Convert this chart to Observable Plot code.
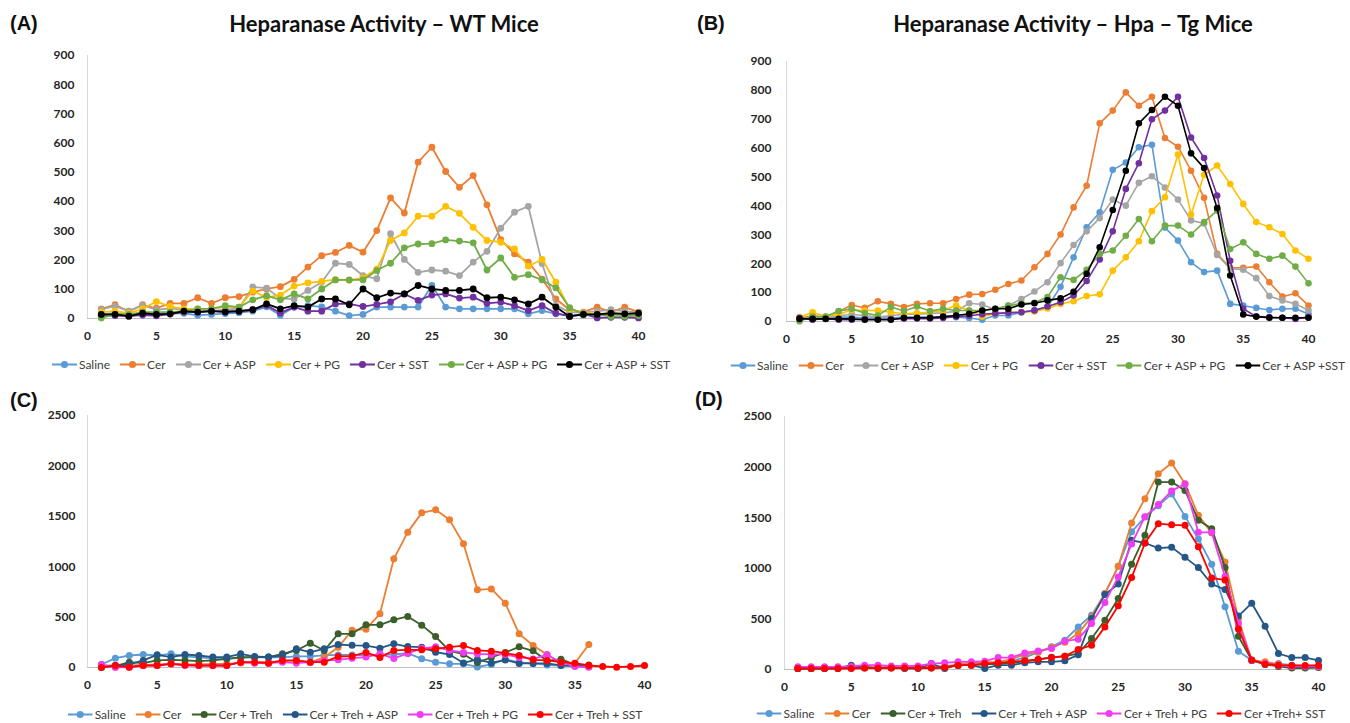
<!DOCTYPE html>
<html><head><meta charset="utf-8">
<script src="https://cdn.jsdelivr.net/npm/d3@7"></script>
<script src="https://cdn.jsdelivr.net/npm/@observablehq/plot@0.6"></script>
<style>
body{margin:0;background:#fff;width:1350px;height:723px;overflow:hidden;font-family:Lato,"Open Sans",sans-serif;}
#root{position:relative;width:1350px;height:723px;background:#fff;}
.abs{position:absolute;}
.plabel{font-family:"Liberation Sans",Arial,sans-serif;font-weight:bold;font-size:20px;color:#111;transform:translateY(-50%);}
.title{font-family:Lato,sans-serif;font-weight:bold;font-size:22px;color:#111;white-space:nowrap;transform:translate(-50%,-50%);}
.legend{display:flex;gap:10px;transform:translate(-50%,-50%);white-space:nowrap;font-size:12px;color:#404040;align-items:center;font-family:Lato,sans-serif;}
.item{display:flex;align-items:center;gap:2px;}
</style></head>
<body><div id="root"></div>
<script>
// ---------- shared axes ----------
const fractions = [1,2,3,4,5,6,7,8,9,10,11,12,13,14,15,16,17,18,19,20,21,22,23,24,25,26,27,28,29,30,31,32,33,34,35,36,37,38,39,40];
const xTicks = [0,5,10,15,20,25,30,35,40];
const yTicksAB = [0,100,200,300,400,500,600,700,800,900];
const yTicksCD = [0,500,1000,1500,2000,2500];

// ---------- panel A : WT mice ----------
const namesA = ["Saline","Cer","Cer + ASP","Cer + PG","Cer + SST","Cer + ASP + PG","Cer + ASP + SST"];
const colorsAB = ["#5B9BD5","#ED7D31","#A5A5A5","#FFC000","#7030A0","#70AD47","#000000"];
const aSaline   = [15,18,12,15,15,18,18,11,14,17,20,25,40,11,39,44,40,25,10,14,39,39,39,39,113,39,33,33,33,33,33,16,27,16,10,12,12,15,12,12];
const aCer      = [33,47,25,47,35,52,52,71,52,71,75,90,101,109,134,176,215,226,250,227,301,413,361,535,586,503,449,489,389,270,221,193,135,67,30,22,39,22,39,22];
const aCerASP   = [31,42,25,45,30,35,30,28,25,30,35,108,104,68,67,96,124,189,185,147,136,290,202,158,166,162,147,193,230,309,364,384,188,45,22,20,25,30,25,20];
const aCerPG    = [22,25,18,33,58,41,33,33,33,39,39,94,72,80,111,122,127,133,131,139,169,267,293,350,350,384,360,312,267,261,238,179,202,124,33,18,16,18,16,16];
const aCerSST   = [10,10,8,12,9,15,22,22,25,25,25,30,45,19,39,25,25,50,50,41,48,57,84,62,80,84,70,73,52,56,44,27,44,18,7,16,2,4,4,2];
const aCerASPPG = [2,14,14,22,22,22,25,33,33,44,39,64,78,64,84,67,101,132,132,132,164,189,242,255,256,269,265,259,166,207,141,150,132,105,37,14,14,7,7,10];
const aCerASPSST= [14,14,8,18,14,16,25,22,25,22,25,30,50,33,44,39,67,67,47,101,71,87,84,113,101,96,96,101,71,73,64,50,73,39,7,14,14,18,16,18];

// ---------- panel B : Hpa-Tg mice ----------
const namesB = ["Saline","Cer","Cer + ASP","Cer + PG","Cer + SST","Cer + ASP + PG","Cer + ASP +SST"];
const bSaline   = [10,12,12,15,15,12,12,12,15,15,15,15,15,12,6,21,21,32,40,50,120,222,326,378,525,550,603,612,325,280,205,171,176,61,55,47,40,44,44,26];
const bCer      = [12,20,15,35,57,47,70,61,50,61,63,63,78,93,95,110,130,142,188,234,301,395,470,686,730,793,747,778,635,605,522,428,234,186,186,190,136,86,98,55];
const bCerASP   = [10,12,15,20,25,20,15,20,25,25,28,30,35,63,59,40,55,78,104,136,202,265,312,358,422,401,480,503,464,422,350,339,230,183,179,150,88,73,61,39];
const bCerPG    = [15,32,17,25,40,38,38,32,27,29,32,38,55,38,17,27,32,32,35,45,61,70,88,94,176,222,278,382,430,578,370,508,540,476,407,344,326,303,246,217];
const bCerSST   = [13,6,10,6,6,8,8,8,10,10,10,12,17,20,25,28,30,32,38,52,67,90,140,215,312,459,548,700,730,778,637,566,436,210,44,17,15,13,9,15];
const bCerASPPG = [1,17,17,36,44,29,21,50,36,52,36,44,38,38,38,44,55,62,65,85,153,144,179,234,246,297,355,278,332,332,301,344,384,251,274,234,217,228,190,132];
const bCerASPSST= [9,9,9,9,9,6,6,6,13,13,13,17,21,27,38,44,44,59,63,73,80,103,165,257,386,522,686,732,778,747,582,531,393,159,24,17,13,13,13,13];

// ---------- panel C ----------
const namesC = ["Saline","Cer","Cer + Treh","Cer + Treh + ASP","Cer + Treh + PG","Cer + Treh + SST"];
const namesD = ["Saline","Cer","Cer + Treh","Cer + Treh + ASP","Cer + Treh + PG","Cer +Treh+ SST"];
const colorsCD = ["#5B9BD5","#ED7D31","#3A5F2B","#245786","#F03CF0","#FF0000"];
const cSaline   = [30,93,119,129,119,136,110,100,90,85,95,100,100,100,110,110,120,125,125,120,129,129,142,86,53,36,36,5,30,80,50,40,25,20,15,10,null,null,null,null];
const cCer      = [15,20,20,25,30,35,30,30,35,35,45,50,55,60,70,50,100,200,370,380,532,1078,1343,1534,1564,1465,1227,771,780,638,334,218,129,43,43,228,null,null,null,null];
const cCerTreh  = [3,13,53,43,70,76,70,63,70,86,103,103,103,136,169,241,169,334,334,423,423,473,506,420,307,166,132,50,99,149,205,166,66,83,26,26,null,null,null,null];
const cCerTrehASP=[10,20,30,70,126,103,129,119,103,103,136,109,103,119,185,152,185,228,220,218,192,235,208,202,152,129,45,80,45,75,40,40,40,20,18,10,null,null,null,null];
const cCerTrehPG= [30,0,3,20,20,36,20,20,20,20,53,43,43,53,43,53,70,76,93,103,136,90,140,190,205,170,150,135,130,130,100,85,126,50,10,2,null,null,null,null];
const cCerTrehSST=[0,20,3,20,20,36,26,20,20,20,53,53,43,70,70,53,53,109,112,150,100,169,175,175,185,202,218,169,162,142,119,76,70,53,43,20,10,3,10,20];

// ---------- panel D ----------
const dSaline   = [15,15,15,15,20,20,20,20,20,25,25,25,40,50,50,60,80,120,170,224,290,421,536,750,1020,1360,1507,1617,1735,1513,1290,1040,619,180,92,59,59,43,33,26];
const dCer      = [10,12,15,15,20,20,20,20,20,25,25,30,50,65,70,75,100,150,170,220,270,355,520,750,1020,1448,1688,1935,2040,1836,1523,1350,1063,500,92,76,53,33,33,33];
const dCerTreh  = [10,10,12,15,15,15,15,15,15,15,15,20,40,45,50,55,65,80,100,120,132,158,306,487,701,1040,1326,1852,1852,1770,1474,1392,1007,329,90,50,30,15,15,20];
const dCerTrehASP=[10,10,10,10,43,26,10,26,10,10,59,10,43,43,10,43,43,66,76,76,86,145,503,740,845,1277,1250,1200,1208,1108,1007,845,790,528,655,428,158,118,118,90];
const dCerTrehPG= [26,26,26,26,30,43,43,35,35,35,59,66,76,76,82,118,118,164,184,207,280,300,454,663,915,1240,1510,1630,1765,1833,1355,1355,918,457,92,59,40,30,30,30];
const dCerTrehSST=[10,10,10,10,10,15,15,15,15,15,15,20,43,43,59,66,76,86,99,118,132,197,240,421,630,908,1250,1441,1430,1425,1214,903,885,400,95,53,43,40,40,40];

const root = document.getElementById("root");

function seriesRows(values){
  const out = [];
  fractions.forEach((f,i)=>{ if (values[i] != null) out.push({x:f, y:values[i]}); });
  return out;
}

function makePanel({left, top, width, height, mL, mR, mT, mB, yMax, yTicks, yPad, series, colors, sw, r}) {
  const marks = [
    Plot.ruleX([0], {stroke:"#d9d9d9", strokeWidth:1}),
    Plot.ruleY([0], {stroke:"#bfbfbf", strokeWidth:1.2}),
    Plot.axisX({ticks:xTicks, tickSize:0, tickPadding:13, tickFormat:d=>String(d), label:null}),
    Plot.axisY({ticks:yTicks, tickSize:0, tickPadding:yPad, tickFormat:d=>String(d), label:null})
  ];
  series.forEach((vals,i)=>{
    const rows = seriesRows(vals);
    marks.push(Plot.line(rows, {x:"x", y:"y", stroke:colors[i], strokeWidth:sw}));
    marks.push(Plot.dot(rows, {x:"x", y:"y", fill:colors[i], r:r}));
  });
  const svg = Plot.plot({
    width, height, marginLeft:mL, marginRight:mR, marginTop:mT, marginBottom:mB,
    x:{domain:[0,40]}, y:{domain:[0,yMax]},
    style:{fontFamily:"Lato, sans-serif", fontSize:"12px", fontWeight:"bold", color:"#262626", background:"transparent", overflow:"visible"},
    marks
  });
  svg.style.position = "absolute";
  svg.style.left = left + "px";
  svg.style.top = top + "px";
  root.appendChild(svg);
}

function addText(cls, text, x, y){
  const d = document.createElement("div");
  d.className = "abs " + cls; d.textContent = text;
  d.style.left = x + "px"; d.style.top = y + "px";
  root.appendChild(d);
}

function addLegend(names, colors, cx, cy){
  const d = document.createElement("div");
  d.className = "abs legend";
  d.style.left = cx + "px"; d.style.top = cy + "px";
  names.forEach((n,i)=>{
    const it = document.createElement("div"); it.className = "item";
    it.innerHTML = `<svg width="25" height="10"><line x1="0" y1="5" x2="25" y2="5" stroke="${colors[i]}" stroke-width="2"/><circle cx="12.5" cy="5" r="3.6" fill="${colors[i]}"/></svg><span>${n}</span>`;
    d.appendChild(it);
  });
  root.appendChild(d);
  const rect = d.getBoundingClientRect();
  if (rect.right > 1345) d.style.left = (cx - (rect.right - 1345)) + "px";
}

// Panel A
makePanel({left:0, top:40, width:675, height:300, mL:87, mR:37, mT:15, mB:22, yMax:900, yTicks:yTicksAB, yPad:13,
  series:[aSaline,aCer,aCerASP,aCerPG,aCerSST,aCerASPPG,aCerASPSST], colors:colorsAB, sw:1.8, r:3.4});
// Panel B
makePanel({left:675, top:40, width:675, height:300, mL:111, mR:42, mT:21, mB:19, yMax:900, yTicks:yTicksAB, yPad:15,
  series:[bSaline,bCer,bCerASP,bCerPG,bCerSST,bCerASPPG,bCerASPSST], colors:colorsAB, sw:1.6, r:3.3});
// Panel C
makePanel({left:0, top:400, width:675, height:290, mL:87, mR:31, mT:15, mB:23, yMax:2500, yTicks:yTicksCD, yPad:12,
  series:[cSaline,cCer,cCerTreh,cCerTrehASP,cCerTrehPG,cCerTrehSST], colors:colorsCD, sw:1.8, r:3.5});
// Panel D
makePanel({left:675, top:400, width:675, height:290, mL:109, mR:32, mT:16, mB:21, yMax:2500, yTicks:yTicksCD, yPad:13,
  series:[dSaline,dCer,dCerTreh,dCerTrehASP,dCerTrehPG,dCerTrehSST], colors:colorsCD, sw:1.8, r:3.5});

addText("plabel","(A)",10,23);
addText("plabel","(B)",697,23);
addText("plabel","(C)",10,400);
addText("plabel","(D)",695,399);
addText("title","Heparanase Activity \u2013 WT Mice",384,23);
addText("title","Heparanase Activity \u2013 Hpa \u2013 Tg Mice",1073,23);

addLegend(namesA, colorsAB, 361, 364);
addLegend(namesB, colorsAB, 1039, 365);
addLegend(namesC, colorsCD, 355, 714);
addLegend(namesD, colorsCD, 1041, 713);
</script>
</body></html>
